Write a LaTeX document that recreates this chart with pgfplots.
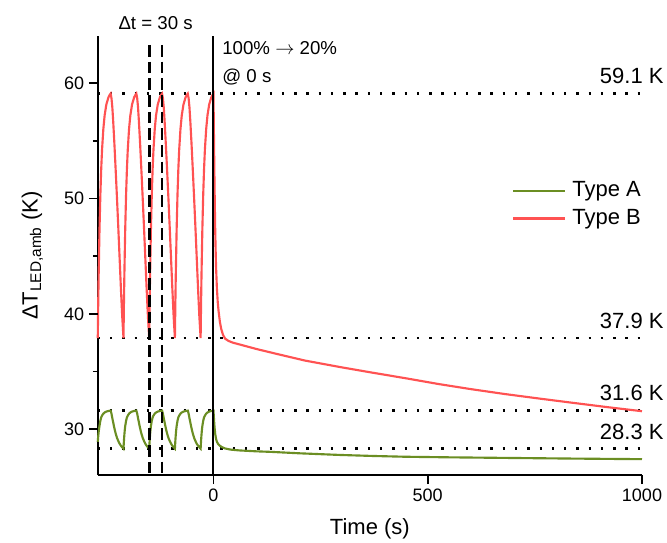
\documentclass[border=0pt]{standalone}
\usepackage{fontspec}
\setmainfont{Liberation Sans}
\usepackage{pgfplots}
\pgfplotsset{compat=1.18}

\definecolor{typeA}{RGB}{107,142,35}
\definecolor{typeB}{RGB}{255,82,82}

\begin{document}
\begin{tikzpicture}
\begin{axis}[
    scale only axis,
    width=408pt, height=329.25pt,
    xmin=-270, xmax=1000,
    ymin=26, ymax=64.1,
    axis lines=left,
    axis line style={-, line width=1.3pt},
    xtick={0,500,1000},
    ytick={30,40,50,60},
    minor ytick={35,45,55},
    tick align=outside,
    tickwidth=6.75pt,
    subtickwidth=3.75pt,
    every tick/.append style={black, line width=1.2pt},
    /pgf/number format/1000 sep={},
    /pgf/number format/assume math mode=true,
    tick label style={font=\fontsize{13.5pt}{16pt}\selectfont},
    xlabel={Time (s)},
    ylabel={ΔT\textsubscript{LED,amb} (K)},
    xlabel style={font=\fontsize{16.5pt}{19pt}\selectfont, at={(axis description cs:0.5,-0.121)}, anchor=center},
    ylabel style={font=\fontsize{16.5pt}{19pt}\selectfont, at={(axis description cs:-0.12,0.5)}, anchor=center},
    clip=false,
    legend cell align=left,
    legend image code/.code={\draw[#1] (0pt,0pt) -- (39pt,0pt);},
    legend style={at={(axis description cs:0.761,0.616)}, anchor=west,
        draw=none, fill=none, inner sep=0pt, column sep=4.5pt, row sep=5.7pt,
        font=\fontsize{16.5pt}{19pt}\selectfont,
        nodes={inner sep=0pt, text height=12pt, text depth=3pt}},
]

% reference levels
\addplot[forget plot, line width=1.8pt, dash pattern=on 1.8pt off 7.4pt] coordinates {(-270,59.1)(1000,59.1)};
\addplot[forget plot, line width=1.8pt, dash pattern=on 1.8pt off 7.4pt] coordinates {(-270,37.9)(1000,37.9)};
\addplot[forget plot, line width=1.8pt, dash pattern=on 1.8pt off 7.4pt] coordinates {(-270,31.6)(1000,31.6)};
\addplot[forget plot, line width=1.8pt, dash pattern=on 1.8pt off 7.4pt] coordinates {(-270,28.3)(1000,28.3)};

% Type A
\addplot[typeA, line width=1.6pt] coordinates {
(-270,28.90)(-269,29.35)(-268,29.72)(-267,30.02)(-266,30.28)(-264,30.71)(-262,31.01)(-260,31.17)(-257,31.34)(-254,31.44)(-250,31.52)(-245,31.57)(-240,31.60)
(-238,31.34)(-236,30.94)(-234,30.58)(-232,30.21)(-230,29.88)(-228,29.59)(-225,29.22)(-222,28.96)(-219,28.73)(-216,28.56)(-213,28.42)
(-210,28.30)(-209,28.96)(-208,29.49)(-207,29.92)(-206,30.25)(-204,30.71)(-202,31.01)(-200,31.17)(-197,31.34)(-194,31.44)(-190,31.52)(-185,31.57)(-180,31.60)
(-178,31.34)(-176,30.94)(-174,30.58)(-172,30.21)(-170,29.88)(-168,29.59)(-165,29.22)(-162,28.96)(-159,28.73)(-156,28.56)(-153,28.42)
(-150,28.30)(-149,28.96)(-148,29.49)(-147,29.92)(-146,30.25)(-144,30.71)(-142,31.01)(-140,31.17)(-137,31.34)(-134,31.44)(-130,31.52)(-125,31.57)(-120,31.60)
(-118,31.34)(-116,30.94)(-114,30.58)(-112,30.21)(-110,29.88)(-108,29.59)(-105,29.22)(-102,28.96)(-99,28.73)(-96,28.56)(-93,28.42)
(-90,28.30)(-89,28.96)(-88,29.49)(-87,29.92)(-86,30.25)(-84,30.71)(-82,31.01)(-80,31.17)(-77,31.34)(-74,31.44)(-70,31.52)(-65,31.57)(-60,31.60)
(-58,31.34)(-56,30.94)(-54,30.58)(-52,30.21)(-50,29.88)(-48,29.59)(-45,29.22)(-42,28.96)(-39,28.73)(-36,28.56)(-33,28.42)
(-30,28.30)(-29,28.96)(-28,29.49)(-27,29.92)(-26,30.25)(-24,30.71)(-22,31.01)(-20,31.17)(-17,31.34)(-14,31.44)(-10,31.52)(-5,31.57)(0,31.60)
(1,31.0)(2,30.4)(3,29.95)(4,29.6)(6,29.15)(8,28.9)(11,28.7)(15,28.55)(20,28.43)(27,28.32)(40,28.22)(60,28.15)(100,28.07)(136,28.02)
(200,27.9)(292,27.76)(370,27.67)(447,27.6)(550,27.55)(680,27.5)(840,27.44)(1000,27.39)
};
\addlegendentry{Type A}

% Type B
\addplot[typeB, line width=1.6pt] coordinates {
(-270,37.90)(-269,40.76)(-268,43.24)(-266,47.26)(-264,50.27)(-262,52.54)(-260,54.24)(-257,56.04)(-254,57.21)(-250,58.16)(-245,58.79)(-242,59.00)(-240,59.10)
(-238,58.70)(-236,57.90)(-234,56.70)(-231,54.60)(-228,52.30)(-225,49.90)(-222,47.40)(-219,44.80)(-216,42.20)(-213,39.80)
(-210,37.90)(-209,40.76)(-208,43.24)(-206,47.26)(-204,50.27)(-202,52.54)(-200,54.24)(-197,56.04)(-194,57.21)(-190,58.16)(-185,58.79)(-182,59.00)(-180,59.10)
(-178,58.70)(-176,57.90)(-174,56.70)(-171,54.60)(-168,52.30)(-165,49.90)(-162,47.40)(-159,44.80)(-156,42.20)(-153,39.80)
(-150,37.90)(-149,40.76)(-148,43.24)(-146,47.26)(-144,50.27)(-142,52.54)(-140,54.24)(-137,56.04)(-134,57.21)(-130,58.16)(-125,58.79)(-122,59.00)(-120,59.10)
(-118,58.70)(-116,57.90)(-114,56.70)(-111,54.60)(-108,52.30)(-105,49.90)(-102,47.40)(-99,44.80)(-96,42.20)(-93,39.80)
(-90,37.90)(-89,40.76)(-88,43.24)(-86,47.26)(-84,50.27)(-82,52.54)(-80,54.24)(-77,56.04)(-74,57.21)(-70,58.16)(-65,58.79)(-62,59.00)(-60,59.10)
(-58,58.70)(-56,57.90)(-54,56.70)(-51,54.60)(-48,52.30)(-45,49.90)(-42,47.40)(-39,44.80)(-36,42.20)(-33,39.80)
(-30,37.90)(-29,40.76)(-28,43.24)(-26,47.26)(-24,50.27)(-22,52.54)(-20,54.24)(-17,56.04)(-14,57.21)(-10,58.16)(-5,58.79)(-2,59.00)(0,59.10)
(1,55.8)(2,52.6)(3,49.8)(4,47.4)(5,45.6)(6,44.1)(8,42.2)(10,41.0)(12,40.2)(15,39.3)(18,38.7)(22,38.2)(27,37.85)(35,37.65)(45,37.5)
(60,37.35)(80,37.15)(100,36.95)(150,36.5)(214,35.94)(300,35.35)(370,34.9)(450,34.4)(525,33.91)(600,33.47)(680,33.04)(760,32.65)
(836,32.29)(920,31.9)(1000,31.55)
};
\addlegendentry{Type B}

% switch at 0 s and the 30 s window
\addplot[forget plot, black, line width=1.5pt] coordinates {(0,64.1)(0,26)};
\addplot[forget plot, black, line width=2pt, dash pattern=on 8.75pt off 3.75pt] coordinates {(-150,63.33)(-150,26)};
\addplot[forget plot, black, line width=2pt, dash pattern=on 8.75pt off 3.75pt] coordinates {(-120,63.33)(-120,26)};

% tick marks outside the axis lines
\addplot[forget plot, black, line width=1.2pt] coordinates {(0,26)(0,25.22)};
\addplot[forget plot, black, line width=1.2pt] coordinates {(500,26)(500,25.22)};
\addplot[forget plot, black, line width=1.2pt] coordinates {(1000,26)(1000,25.22)};
\addplot[forget plot, black, line width=1.2pt] coordinates {(-270,30)(-291,30)};
\addplot[forget plot, black, line width=1.2pt] coordinates {(-270,40)(-291,40)};
\addplot[forget plot, black, line width=1.2pt] coordinates {(-270,50)(-291,50)};
\addplot[forget plot, black, line width=1.2pt] coordinates {(-270,60)(-291,60)};
\addplot[forget plot, black, line width=1.2pt] coordinates {(-270,35)(-282,35)};
\addplot[forget plot, black, line width=1.2pt] coordinates {(-270,45)(-282,45)};
\addplot[forget plot, black, line width=1.2pt] coordinates {(-270,55)(-282,55)};

\node[anchor=base, inner sep=0pt, font=\fontsize{14pt}{16pt}\selectfont] at ([yshift=5.25pt]axis cs:-135,64.1) {Δt = 30 s};
\node[anchor=base west, inner sep=0pt, font=\fontsize{14pt}{16pt}\selectfont] at (axis cs:20,62.46) {100\% $\rightarrow$ 20\%};
\node[anchor=base west, inner sep=0pt, font=\fontsize{14pt}{16pt}\selectfont] at (axis cs:20,60.05) {@ 0 s};

\node[anchor=base east, inner sep=0pt, font=\fontsize{16.5pt}{19pt}\selectfont] at ([yshift=7.5pt]axis cs:1051,59.1) {59.1 K};
\node[anchor=base east, inner sep=0pt, font=\fontsize{16.5pt}{19pt}\selectfont] at ([yshift=7.5pt]axis cs:1051,37.9) {37.9 K};
\node[anchor=base east, inner sep=0pt, font=\fontsize{16.5pt}{19pt}\selectfont] at ([yshift=7.5pt]axis cs:1051,31.6) {31.6 K};
\node[anchor=base east, inner sep=0pt, font=\fontsize{16.5pt}{19pt}\selectfont] at ([yshift=7pt]axis cs:1051,28.3) {28.3 K};

\coordinate (bl) at (rel axis cs:0,0);
\coordinate (tr) at (rel axis cs:1,1);
\end{axis}
\pgfresetboundingbox
\path[use as bounding box] ([xshift=-73.3pt,yshift=-50.25pt]bl) rectangle ([xshift=18.75pt,yshift=27pt]tr);
\end{tikzpicture}
\end{document}
